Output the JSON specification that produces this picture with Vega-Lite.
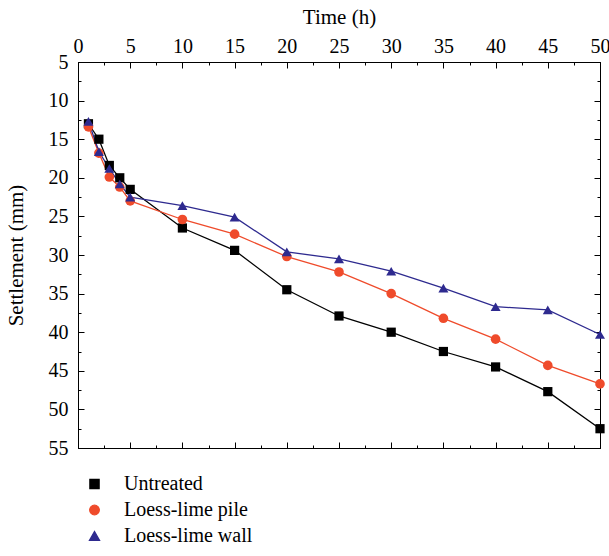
{
  "$schema": "https://vega.github.io/schema/vega-lite/v6.json",
  "width": 522,
  "height": 386,
  "autosize": {"type": "none"},
  "padding": {"left": 78, "top": 62, "right": 9, "bottom": 108},
  "config": {
    "view": {"stroke": "black", "strokeWidth": 1},
    "font": "Liberation Serif",
    "legend": {"labelFont": "Liberation Serif", "labelFontSize": 20, "labelColor": "black", "symbolStrokeWidth": 1.3},
    "axis": {
      "grid": false,
      "labelFont": "Liberation Serif",
      "titleFont": "Liberation Serif",
      "labelFontSize": 20,
      "titleFontSize": 21,
      "titleFontWeight": "normal",
      "labelColor": "black",
      "titleColor": "black",
      "domainColor": "black",
      "tickColor": "black",
      "tickWidth": 1,
      "labelFlush": false,
      "labelOverlap": false
    }
  },
  "data": {
    "values": [
      {"t": 1, "s": 13.0, "series": "Untreated"},
      {"t": 2, "s": 15.0, "series": "Untreated"},
      {"t": 3, "s": 18.4, "series": "Untreated"},
      {"t": 4, "s": 20.0, "series": "Untreated"},
      {"t": 5, "s": 21.5, "series": "Untreated"},
      {"t": 10, "s": 26.5, "series": "Untreated"},
      {"t": 15, "s": 29.4, "series": "Untreated"},
      {"t": 20, "s": 34.5, "series": "Untreated"},
      {"t": 25, "s": 37.9, "series": "Untreated"},
      {"t": 30, "s": 40.0, "series": "Untreated"},
      {"t": 35, "s": 42.5, "series": "Untreated"},
      {"t": 40, "s": 44.5, "series": "Untreated"},
      {"t": 45, "s": 47.7, "series": "Untreated"},
      {"t": 50, "s": 52.5, "series": "Untreated"},
      {"t": 1, "s": 13.4, "series": "Loess-lime pile"},
      {"t": 2, "s": 16.8, "series": "Loess-lime pile"},
      {"t": 3, "s": 19.9, "series": "Loess-lime pile"},
      {"t": 4, "s": 21.2, "series": "Loess-lime pile"},
      {"t": 5, "s": 23.0, "series": "Loess-lime pile"},
      {"t": 10, "s": 25.4, "series": "Loess-lime pile"},
      {"t": 15, "s": 27.3, "series": "Loess-lime pile"},
      {"t": 20, "s": 30.2, "series": "Loess-lime pile"},
      {"t": 25, "s": 32.2, "series": "Loess-lime pile"},
      {"t": 30, "s": 35.0, "series": "Loess-lime pile"},
      {"t": 35, "s": 38.2, "series": "Loess-lime pile"},
      {"t": 40, "s": 40.9, "series": "Loess-lime pile"},
      {"t": 45, "s": 44.3, "series": "Loess-lime pile"},
      {"t": 50, "s": 46.7, "series": "Loess-lime pile"},
      {"t": 1, "s": 12.7, "series": "Loess-lime wall"},
      {"t": 2, "s": 16.6, "series": "Loess-lime wall"},
      {"t": 3, "s": 18.8, "series": "Loess-lime wall"},
      {"t": 4, "s": 20.8, "series": "Loess-lime wall"},
      {"t": 5, "s": 22.5, "series": "Loess-lime wall"},
      {"t": 10, "s": 23.6, "series": "Loess-lime wall"},
      {"t": 15, "s": 25.1, "series": "Loess-lime wall"},
      {"t": 20, "s": 29.6, "series": "Loess-lime wall"},
      {"t": 25, "s": 30.5, "series": "Loess-lime wall"},
      {"t": 30, "s": 32.1, "series": "Loess-lime wall"},
      {"t": 35, "s": 34.3, "series": "Loess-lime wall"},
      {"t": 40, "s": 36.7, "series": "Loess-lime wall"},
      {"t": 45, "s": 37.1, "series": "Loess-lime wall"},
      {"t": 50, "s": 40.3, "series": "Loess-lime wall"}
    ]
  },
  "layer": [
    {
      "mark": {"type": "line", "strokeWidth": 1.3},
      "encoding": {
        "x": {
          "field": "t", "type": "quantitative",
          "scale": {"domain": [0, 50], "nice": false, "zero": false},
          "axis": {
            "orient": "top",
            "title": "Time (h)",
            "values": [0, 2.5, 5, 7.5, 10, 12.5, 15, 17.5, 20, 22.5, 25, 27.5, 30, 32.5, 35, 37.5, 40, 42.5, 45, 47.5, 50],
            "labelExpr": "datum.value % 5 === 0 ? datum.label : ''",
            "tickSize": {"condition": {"test": "datum.value % 5 === 0", "value": -6}, "value": -3},
            "labelPadding": 12,
            "titlePadding": 6
          }
        },
        "y": {
          "field": "s", "type": "quantitative",
          "scale": {"domain": [5, 55], "nice": false, "zero": false, "reverse": true},
          "axis": {
            "orient": "left",
            "title": "Settlement (mm)",
            "values": [5, 7.5, 10, 12.5, 15, 17.5, 20, 22.5, 25, 27.5, 30, 32.5, 35, 37.5, 40, 42.5, 45, 47.5, 50, 52.5, 55],
            "labelExpr": "datum.value % 5 === 0 ? datum.label : ''",
            "tickSize": {"condition": {"test": "datum.value % 5 === 0", "value": -6}, "value": -3},
            "labelPadding": 16,
            "titlePadding": 22
          }
        },
        "color": {
          "field": "series", "type": "nominal",
          "scale": {"domain": ["Untreated", "Loess-lime pile", "Loess-lime wall"], "range": ["#000000", "#EF4B2B", "#2E2A8F"]},
          "legend": {
            "orient": "none",
            "legendX": 6.5,
            "legendY": 412,
            "title": null,
            "direction": "vertical",
            "padding": 0,
            "symbolSize": 529,
            "symbolStrokeWidth": 1.3,
            "labelFont": "Liberation Serif",
            "labelFontSize": 20,
            "labelColor": "black",
            "labelOffset": 19.5,
            "rowPadding": 6,
            "encode": {
              "symbols": {
                "update": {
                  "shape": {"signal": "datum.value === 'Untreated' ? 'M-1.48,0L1.48,0M-0.39,-0.39L0.39,-0.39L0.39,0.39L-0.39,0.39Z' : datum.value === 'Loess-lime pile' ? 'M-1.48,0L1.48,0M-0.43,0A0.43,0.43 0 1,0 0.43,0A0.43,0.43 0 1,0 -0.43,0Z' : 'M-1.48,0L1.48,0M0,-0.55L0.6,0.45L-0.6,0.45Z'"},
                  "fill": {"signal": "datum.value === 'Untreated' ? '#000000' : datum.value === 'Loess-lime pile' ? '#EF4B2B' : '#2E2A8F'"},
                  "strokeWidth": {"value": 1.3},
                  "size": {"value": 529},
                  "opacity": {"value": 1}
                }
              }
            }
          }
        }
      }
    },
    {
      "mark": {"type": "point", "filled": true, "opacity": 1},
      "encoding": {
        "x": {
          "field": "t", "type": "quantitative",
          "axis": {
            "orient": "bottom",
            "title": null,
            "labels": false,
            "values": [0, 2.5, 5, 7.5, 10, 12.5, 15, 17.5, 20, 22.5, 25, 27.5, 30, 32.5, 35, 37.5, 40, 42.5, 45, 47.5, 50],
            "tickSize": {"condition": {"test": "datum.value % 5 === 0", "value": -6}, "value": -3}
          }
        },
        "y": {
          "field": "s", "type": "quantitative",
          "axis": {
            "orient": "right",
            "title": null,
            "labels": false,
            "values": [5, 7.5, 10, 12.5, 15, 17.5, 20, 22.5, 25, 27.5, 30, 32.5, 35, 37.5, 40, 42.5, 45, 47.5, 50, 52.5, 55],
            "tickSize": {"condition": {"test": "datum.value % 5 === 0", "value": -6}, "value": -3}
          }
        },
        "fill": {
          "field": "series", "type": "nominal",
          "scale": {"domain": ["Untreated", "Loess-lime pile", "Loess-lime wall"], "range": ["#000000", "#EF4B2B", "#2E2A8F"]},
          "legend": null
        },
        "shape": {
          "field": "series", "type": "nominal",
          "scale": {"domain": ["Untreated", "Loess-lime pile", "Loess-lime wall"], "range": ["square", "circle", "triangle-up"]},
          "legend": null
        },
        "size": {
          "field": "series", "type": "nominal",
          "scale": {"domain": ["Untreated", "Loess-lime pile", "Loess-lime wall"], "range": [85, 100, 170]},
          "legend": null
        }
      }
    }
  ],
  "resolve": {"axis": {"x": "independent", "y": "independent"}}
}
